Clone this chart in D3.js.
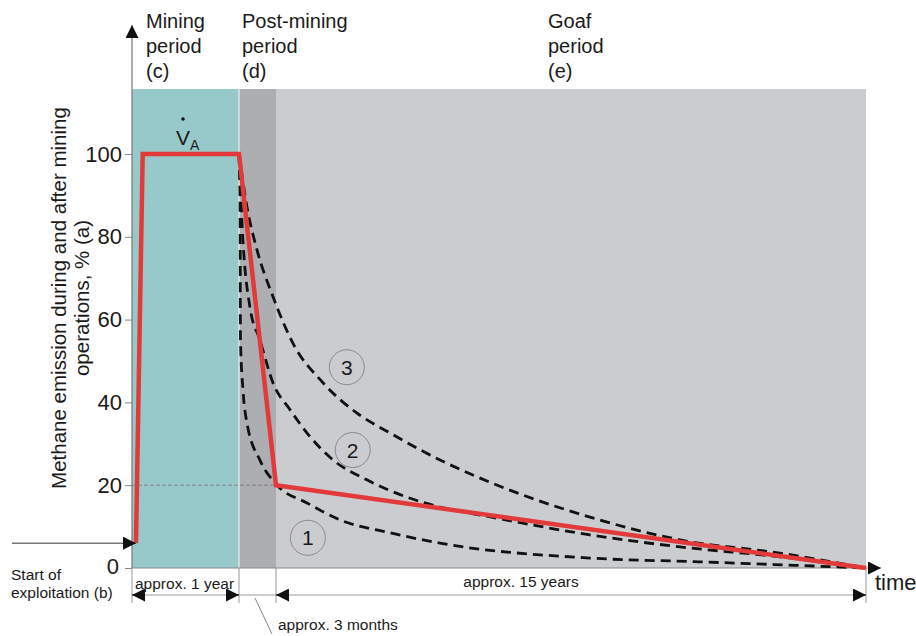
<!DOCTYPE html>
<html>
<head>
    <script src="https://d3js.org/d3.v7.min.js"></script>
    <style>
        body { margin: 0; background: white; }
        text { font-family: "Liberation Sans", Arial, sans-serif; fill: #1a1a1a; }
        .tick-label { font-size: 22px; }
        .period { font-size: 20px; }
        .small { font-size: 15.5px; }
        .dashcurve { fill: none; stroke: #111; stroke-width: 2.8px; stroke-dasharray: 10 6; }
    </style>
</head>
<body>
    <script>
        // time axis is piecewise: mining ~1 year, post-mining ~3 months, goaf ~15 years
        var timeBreaks = [0, 1, 1.25, 16.25];
        var yTicks = [0, 20, 40, 60, 80, 100];

        // emission model (red) in % of mining-period emission
        var redT = [0.037, 0.1, 1, 1.25, 16.25];
        var redV = [6, 100, 100, 20, 0];

        // dashed curves 1, 2, 3
        var curve1T = [1, 1.007, 1.01, 1.027, 1.054, 1.142, 1.28, 2.04, 2.88, 4.15, 5.42, 9.23, 12.0, 16.25];
        var curve1V = [100, 89, 55, 43, 35, 26, 20, 15.7, 11.6, 8.5, 6.0, 2.4, 1.5, 0];
        var curve2T = [1, 1.027, 1.074, 1.142, 1.23, 1.61, 2.04, 2.70, 3.56, 4.58, 5.42, 6.44, 9.23, 11.52, 14.06, 16.25];
        var curve2V = [100, 79, 63, 55, 44.7, 38.2, 32.6, 26.1, 21.3, 17.1, 14.7, 12.8, 8.0, 5.1, 2.7, 0];
        var curve3T = [1, 1.054, 1.122, 1.23, 1.68, 2.45, 3.31, 4.15, 5.42, 6.44, 9.23, 11.52, 14.06, 16.25];
        var curve3V = [100, 87.2, 76.8, 65.5, 54.3, 44.7, 37.4, 32.6, 26.1, 21.7, 12.3, 6.8, 3.6, 0];

        // where the circled numbers sit
        var labelNames = ["1", "2", "3"];
        var labelT = [2.06, 3.2, 3.05];
        var labelV = [7.3, 28.5, 48.5];

        var periodNames = [["Mining", "period", "(c)"], ["Post-mining", "period", "(d)"], ["Goaf", "period", "(e)"]];
        var periodColors = ["#98c9ca", "#adaeb2", "#cbccd0"];

        var svg = d3.select("body").append("svg")
            .attr("width", 916).attr("height", 636);

        var x = d3.scaleLinear().domain(timeBreaks).range([132, 239, 276, 866]);
        var y = d3.scaleLinear().domain([0, 100]).range([568, 154]);
        var bandTop = 89;

        var defs = svg.append("defs");
        defs.append("marker").attr("id", "arrowBlack")
            .attr("viewBox", "0 0 10 10").attr("refX", 10).attr("refY", 5)
            .attr("markerWidth", 13).attr("markerHeight", 13).attr("markerUnits", "userSpaceOnUse")
            .attr("orient", "auto-start-reverse")
            .append("path").attr("d", "M0,0 L10,5 L0,10 z").attr("fill", "#111");

        // background period bands
        svg.append("g").selectAll("rect")
            .data([0, 1, 2])
            .enter().append("rect")
            .attr("x", function (i) { return x(timeBreaks[i]); })
            .attr("y", bandTop)
            .attr("width", function (i) { return x(timeBreaks[i + 1]) - x(timeBreaks[i]); })
            .attr("height", y(0) - bandTop)
            .attr("fill", function (i) { return periodColors[i]; });

        // thin separator between teal and dark band
        svg.append("line").attr("x1", x(1)).attr("x2", x(1)).attr("y1", bandTop).attr("y2", y(0))
            .attr("stroke", "#e8eef0").attr("stroke-width", 1.2);

        // period headings
        periodNames.forEach(function (lines, i) {
            var xs = [146, 242, 548][i];
            var t = svg.append("text").attr("class", "period").attr("x", xs).attr("y", 28);
            lines.forEach(function (l, j) {
                t.append("tspan").attr("x", xs).attr("y", 28 + j * 25).text(l);
            });
        });

        // y axis
        var yAxis = d3.axisLeft(y).tickValues(yTicks).tickSize(7).tickPadding(3);
        var gy = svg.append("g").attr("transform", "translate(132,0)").call(yAxis);
        gy.select(".domain").remove();
        gy.selectAll(".tick line").attr("stroke", "#888");
        gy.selectAll(".tick text").attr("class", "tick-label").attr("fill", "#1a1a1a")
            .style("font-family", "Liberation Sans, Arial, sans-serif").style("font-size", "22px");
        gy.selectAll(".tick").filter(function (d) { return d === 0; }).select("text")
            .attr("x", -13).attr("dy", "0.25em");

        svg.append("line").attr("x1", 132).attr("x2", 132).attr("y1", y(0)).attr("y2", 25)
            .attr("stroke", "#777").attr("stroke-width", 1.2).attr("marker-end", "url(#arrowBlack)");

        // y title
        var yt = svg.append("text").attr("transform", "translate(66,298) rotate(-90)")
            .attr("text-anchor", "middle").style("font-size", "20.5px");
        yt.append("tspan").attr("x", 0).attr("y", 0).text("Methane emission during and after mining");
        yt.append("tspan").attr("x", 0).attr("y", 23).text("operations, % (a)");

        // time axis
        svg.append("line").attr("x1", 132).attr("x2", 881).attr("y1", y(0)).attr("y2", y(0))
            .attr("stroke", "#888").attr("stroke-width", 1.2).attr("marker-end", "url(#arrowBlack)");
        svg.append("text").attr("x", 875).attr("y", 590).style("font-size", "22px").text("time");

        // 20% guide
        svg.append("line").attr("x1", 132).attr("x2", x(1.25)).attr("y1", y(20)).attr("y2", y(20))
            .attr("stroke", "#777").attr("stroke-width", 0.8).attr("stroke-dasharray", "4 2");

        // dashed curves
        var line = d3.line()
            .x(function (d) { return x(d[0]); })
            .y(function (d) { return y(d[1]); })
            .curve(d3.curveMonotoneX);
        [[curve1T, curve1V], [curve2T, curve2V], [curve3T, curve3V]].forEach(function (c) {
            svg.append("path").attr("class", "dashcurve")
                .attr("d", line(d3.zip(c[0], c[1])));
        });

        // red emission line
        svg.append("path")
            .attr("d", d3.line().x(function (d) { return x(d[0]); }).y(function (d) { return y(d[1]); })(d3.zip(redT, redV)))
            .attr("fill", "none").attr("stroke", "#e23a3a").attr("stroke-width", 4.5)
            .attr("stroke-linejoin", "miter");

        // circled numbers
        var lab = svg.append("g").selectAll("g").data(labelNames).enter().append("g")
            .attr("transform", function (d, i) { return "translate(" + x(labelT[i]) + "," + y(labelV[i]) + ")"; });
        lab.append("circle").attr("r", 17.5).attr("fill", "none").attr("stroke", "#8a8a8a").attr("stroke-width", 1);
        lab.append("text").attr("text-anchor", "middle").attr("dy", "0.36em").style("font-size", "21px")
            .text(function (d) { return d; });

        // V-dot A label
        svg.append("text").attr("x", 176).attr("y", 145).style("font-size", "21px").text("V")
            .append("tspan").attr("dy", 5).style("font-size", "14px").text("A");
        svg.append("circle").attr("cx", 183).attr("cy", 119).attr("r", 1.8).attr("fill", "#111");

        // start of exploitation arrow
        svg.append("line").attr("x1", 12).attr("x2", x(redT[0])).attr("y1", y(redV[0])).attr("y2", y(redV[0]))
            .attr("stroke", "#333").attr("stroke-width", 1).attr("marker-end", "url(#arrowBlack)");
        var st = svg.append("text").attr("class", "small");
        st.append("tspan").attr("x", 11).attr("y", 580).text("Start of");
        st.append("tspan").attr("x", 11).attr("y", 598).text("exploitation (b)");

        // dimension lines under the axis
        var dimY = 595;
        timeBreaks.forEach(function (t) {
            svg.append("line").attr("x1", x(t)).attr("x2", x(t)).attr("y1", y(0)).attr("y2", 603)
                .attr("stroke", "#999").attr("stroke-width", 1);
        });
        svg.append("line").attr("x1", x(0)).attr("x2", x(16.25)).attr("y1", dimY).attr("y2", dimY)
            .attr("stroke", "#999").attr("stroke-width", 1);
        [[0, 1], [1.25, 16.25]].forEach(function (p) {
            svg.append("line").attr("x1", x(p[0]) + 12).attr("x2", x(p[0])).attr("y1", dimY).attr("y2", dimY)
                .attr("stroke", "#111").attr("marker-end", "url(#arrowBlack)");
            svg.append("line").attr("x1", x(p[1]) - 12).attr("x2", x(p[1])).attr("y1", dimY).attr("y2", dimY)
                .attr("stroke", "#111").attr("marker-end", "url(#arrowBlack)");
        });
        svg.append("text").attr("class", "small").attr("x", 135).attr("y", 589).text("approx. 1 year");
        svg.append("text").attr("class", "small").attr("x", 521).attr("y", 587).attr("text-anchor", "middle").text("approx. 15 years");
        svg.append("line").attr("x1", 255).attr("y1", 598).attr("x2", 272).attr("y2", 634)
            .attr("stroke", "#888").attr("stroke-width", 1);
        svg.append("text").attr("class", "small").attr("x", 278).attr("y", 630).text("approx. 3 months");
    </script>
</body>
</html>
